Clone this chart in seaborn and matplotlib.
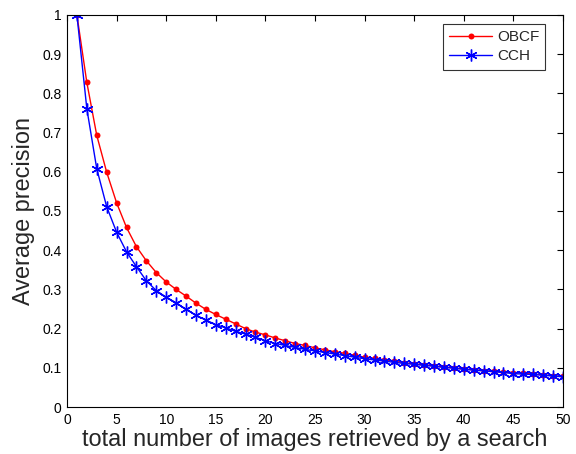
import matplotlib
matplotlib.use("Agg")
import matplotlib.pyplot as plt
import seaborn as sns
import pandas as pd

x_vals = list(range(1, 51))
obcf = [1.000, 0.828, 0.693, 0.599, 0.521, 0.458, 0.409, 0.373, 0.343, 0.319,
        0.300, 0.283, 0.265, 0.249, 0.236, 0.224, 0.212, 0.200, 0.191, 0.184,
        0.176, 0.169, 0.162, 0.157, 0.151, 0.146, 0.141, 0.137, 0.132, 0.127,
        0.124, 0.120, 0.117, 0.113, 0.110, 0.108, 0.105, 0.102, 0.100, 0.097,
        0.095, 0.093, 0.091, 0.089, 0.088, 0.086, 0.084, 0.082, 0.080, 0.078]
cch = [1.000, 0.761, 0.608, 0.511, 0.446, 0.396, 0.358, 0.322, 0.297, 0.280,
       0.266, 0.249, 0.234, 0.222, 0.210, 0.202, 0.193, 0.186, 0.178, 0.169,
       0.162, 0.157, 0.152, 0.147, 0.143, 0.139, 0.135, 0.131, 0.127, 0.123,
       0.120, 0.117, 0.114, 0.111, 0.109, 0.106, 0.104, 0.101, 0.099, 0.096,
       0.094, 0.092, 0.090, 0.088, 0.085, 0.084, 0.083, 0.081, 0.079, 0.077]
series_names = ["OBCF", "CCH"]
x_ticks = list(range(0, 51, 5))
y_ticks = [i / 10 for i in range(0, 11)]
y_tick_labels = ["0", "0.1", "0.2", "0.3", "0.4", "0.5", "0.6", "0.7", "0.8", "0.9", "1"]

sns.set_theme(style="white")
plt.rcParams['font.family'] = ['Liberation Sans', 'DejaVu Sans']

df = pd.DataFrame({
    "x": x_vals * 2,
    "y": obcf + cch,
    "method": [series_names[0]] * len(x_vals) + [series_names[1]] * len(x_vals),
})

fig = plt.figure(figsize=(5.76, 4.54), dpi=100)
ax = fig.add_axes([0.1163, 0.1035, 0.8611, 0.8635])

sns.lineplot(data=df[df.method == "OBCF"], x="x", y="y", ax=ax, color="red",
             marker="o", markersize=4.3, markeredgewidth=0, linewidth=1.0,
             label="OBCF")
sns.lineplot(data=df[df.method == "CCH"], x="x", y="y", ax=ax, color="blue",
             marker="*", markersize=8.5, markeredgewidth=1.0, linewidth=1.0,
             label="CCH")
# MATLAB-style asterisk marker for CCH
cch_line = ax.get_lines()[1]
cch_line.set_marker((6, 2, 0))
cch_line.set_markersize(8.5)
cch_line.set_markeredgewidth(1.0)
cch_line.set_markeredgecolor("blue")

ax.set_xlim(0, 50)
ax.set_ylim(0, 1)
ax.set_xticks(x_ticks)
ax.set_yticks(y_ticks)
ax.set_yticklabels(y_tick_labels)
ax.tick_params(axis='both', which='both', direction='in', top=True, right=True,
               labelsize=10, length=4, width=0.8, colors='black', pad=4)
for s in ax.spines.values():
    s.set_color('black')
    s.set_linewidth(0.8)
ax.set_xlabel("total number of images retrieved by a search", fontsize=16.9, labelpad=1)
ax.set_ylabel("Average precision", fontsize=16.9, labelpad=5)

leg = ax.legend(loc="upper right", fontsize=11, frameon=True, fancybox=False,
                edgecolor='black', borderpad=0.4, handlelength=2.8,
                handletextpad=0.3, labelspacing=0.35, borderaxespad=0,
                bbox_to_anchor=(0.964, 0.977))
leg.get_frame().set_linewidth(0.8)
for h in leg.legend_handles:
    if h.get_color() == "blue":
        h.set_marker((6, 2, 0))
        h.set_markersize(8.5)
        h.set_markeredgewidth(1.0)
        h.set_markeredgecolor("blue")

fig.savefig("out.png", dpi=100)
